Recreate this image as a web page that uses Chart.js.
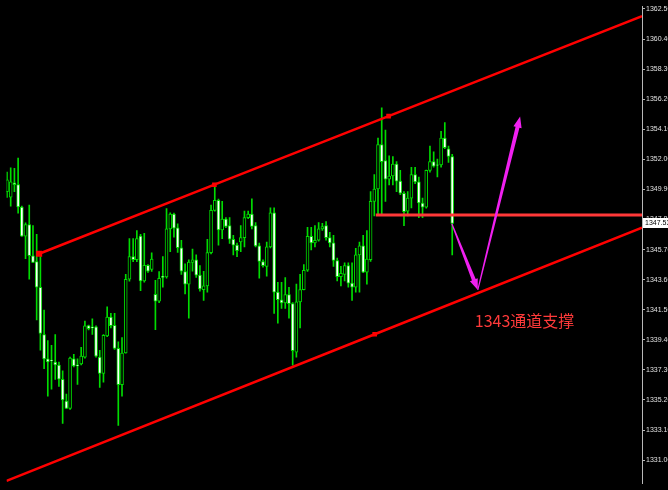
<!DOCTYPE html>
<html>
<head>
<meta charset="utf-8">
<script src="https://cdn.jsdelivr.net/npm/chart.js@4.4.1/dist/chart.umd.min.js"></script>
<style>
  html, body { margin: 0; padding: 0; background: #000; }
  #chart { display: block; background: #000; }
</style>
</head>
<body>
<canvas id="chart" width="668" height="490"></canvas>
<script>
// candles, oldest first (one per bar index)
const candleOpen = [
  1349.75, 1349.36, 1350.36, 1350.23, 1348.66, 1346.64, 1347.44, 1345.26, 1344.87, 1343.07,
  1339.77, 1338.07, 1337.99, 1337.85, 1337.63, 1336.65, 1335.13, 1334.61, 1338.07, 1337.65,
  1337.71, 1338.19, 1340.39, 1340.30, 1340.30, 1338.19, 1337.05, 1339.67, 1340.98, 1340.41,
  1338.80, 1336.27, 1338.48, 1343.63, 1345.21, 1344.99, 1346.64, 1343.51, 1344.60, 1344.31,
  1342.58, 1342.09, 1343.83, 1343.79, 1347.15, 1348.17, 1347.21, 1345.83, 1344.17, 1343.29,
  1344.81, 1344.99, 1343.92, 1342.90, 1343.17, 1345.49, 1348.44, 1349.14, 1347.08, 1347.83,
  1347.37, 1346.42, 1346.01, 1346.23, 1346.53, 1347.93, 1348.17, 1347.37, 1345.96, 1344.87,
  1344.53, 1345.89, 1348.27, 1342.73, 1342.20, 1341.98, 1342.56, 1341.93, 1338.53, 1342.05,
  1342.90, 1344.26, 1346.62, 1346.17, 1346.35, 1347.15, 1347.37, 1346.53, 1346.17, 1344.94,
  1343.81, 1343.97, 1344.58, 1343.36, 1343.07, 1345.33, 1345.96, 1344.13, 1344.99, 1349.07,
  1349.93, 1353.03, 1351.91, 1350.61, 1350.84, 1351.67, 1350.48, 1349.63, 1348.39, 1349.29,
  1350.93, 1350.43, 1348.95, 1348.66, 1351.23, 1351.84, 1351.61, 1351.61, 1353.49, 1352.74,
  1352.20
];
const candleHigh = [
  1351.11, 1351.40, 1351.38, 1352.08, 1348.73, 1347.57, 1348.80, 1347.37, 1346.76, 1345.21,
  1341.47, 1339.35, 1339.01, 1339.77, 1337.85, 1337.24, 1335.61, 1338.19, 1338.39, 1338.07,
  1338.87, 1340.71, 1340.43, 1340.86, 1340.37, 1338.67, 1339.77, 1341.71, 1341.25, 1341.25,
  1339.26, 1339.55, 1343.97, 1346.47, 1346.47, 1347.03, 1346.76, 1346.83, 1344.65, 1345.47,
  1343.56, 1344.17, 1345.21, 1348.57, 1348.27, 1348.25, 1347.49, 1346.35, 1344.70, 1344.99,
  1345.74, 1345.33, 1344.58, 1344.19, 1346.42, 1348.80, 1350.31, 1349.23, 1349.07, 1347.93,
  1347.93, 1346.69, 1346.15, 1347.37, 1348.39, 1348.39, 1349.25, 1347.59, 1346.15, 1344.99,
  1346.23, 1348.61, 1348.61, 1343.41, 1343.41, 1343.75, 1343.07, 1342.00, 1343.29, 1343.97,
  1344.65, 1347.25, 1347.25, 1347.37, 1347.59, 1347.53, 1347.66, 1346.91, 1346.69, 1345.11,
  1344.53, 1344.77, 1344.77, 1344.77, 1345.79, 1346.23, 1346.69, 1347.03, 1349.75, 1350.93,
  1353.49, 1355.60, 1354.05, 1352.25, 1352.20, 1351.84, 1351.23, 1349.75, 1349.75, 1351.45,
  1351.45, 1350.77, 1349.29, 1351.25, 1352.93, 1352.52, 1352.01, 1353.95, 1354.56, 1352.93,
  1352.35
];
const candleLow = [
  1349.34, 1348.73, 1349.75, 1348.25, 1346.62, 1345.06, 1343.63, 1344.79, 1340.79, 1338.67,
  1337.39, 1335.47, 1335.95, 1336.63, 1336.15, 1333.57, 1334.59, 1334.55, 1337.51, 1336.29,
  1337.65, 1338.12, 1340.09, 1339.77, 1338.19, 1336.08, 1336.44, 1339.62, 1340.23, 1338.73,
  1333.43, 1335.47, 1338.46, 1343.49, 1344.85, 1344.85, 1342.83, 1343.43, 1344.11, 1344.17,
  1340.11, 1342.00, 1343.07, 1343.70, 1345.55, 1346.57, 1345.51, 1343.97, 1342.61, 1340.91,
  1344.19, 1343.75, 1342.79, 1342.15, 1342.73, 1345.40, 1348.39, 1346.01, 1346.47, 1347.23,
  1346.13, 1345.33, 1345.21, 1345.55, 1345.89, 1347.85, 1347.15, 1345.89, 1343.70, 1344.47,
  1343.85, 1345.81, 1341.25, 1340.57, 1341.59, 1341.59, 1340.91, 1337.63, 1338.19, 1340.23,
  1342.88, 1344.17, 1345.67, 1345.89, 1346.28, 1347.03, 1346.35, 1345.89, 1344.53, 1343.51,
  1343.17, 1343.51, 1343.07, 1342.15, 1342.73, 1342.73, 1344.09, 1343.29, 1344.87, 1348.05,
  1348.17, 1348.17, 1349.07, 1350.21, 1350.21, 1349.75, 1349.53, 1347.37, 1348.05, 1348.61,
  1350.31, 1347.93, 1347.93, 1348.59, 1351.11, 1351.45, 1350.77, 1351.45, 1352.74, 1351.79,
  1345.33
];
const candleClose = [
  1350.57, 1350.43, 1350.23, 1348.68, 1346.64, 1347.44, 1345.28, 1344.81, 1343.07, 1339.84,
  1338.07, 1337.85, 1337.95, 1337.65, 1336.65, 1335.20, 1334.61, 1338.12, 1337.58, 1337.58,
  1338.26, 1340.37, 1340.18, 1340.23, 1338.26, 1337.05, 1339.71, 1340.98, 1340.39, 1338.80,
  1336.27, 1338.48, 1343.63, 1345.21, 1344.99, 1346.47, 1343.51, 1344.60, 1344.19, 1345.04,
  1342.09, 1343.70, 1343.75, 1347.15, 1348.17, 1347.19, 1345.83, 1344.19, 1343.29, 1344.83,
  1344.99, 1343.92, 1342.95, 1343.17, 1345.49, 1348.44, 1349.14, 1347.08, 1347.83, 1347.32,
  1346.42, 1346.01, 1345.62, 1346.53, 1347.93, 1348.17, 1347.32, 1345.96, 1344.87, 1344.58,
  1345.89, 1348.27, 1342.73, 1342.20, 1341.98, 1342.56, 1341.93, 1338.65, 1342.05, 1342.90,
  1344.26, 1346.62, 1346.17, 1346.35, 1347.15, 1347.30, 1346.53, 1346.17, 1344.94, 1343.81,
  1344.04, 1344.58, 1343.36, 1343.07, 1345.33, 1345.96, 1344.13, 1345.04, 1349.07, 1349.93,
  1353.03, 1351.84, 1350.61, 1350.84, 1351.67, 1350.48, 1349.63, 1348.34, 1349.29, 1350.93,
  1350.43, 1348.95, 1348.66, 1351.23, 1351.84, 1351.52, 1351.59, 1353.49, 1352.81, 1352.20,
  1347.53
];

// price axis
const yTickValues = [1331.0, 1333.1, 1335.2, 1337.3, 1339.4, 1341.5, 1343.6, 1345.7,
  1347.8, 1349.9, 1352.0, 1354.1, 1356.2, 1358.3, 1360.4, 1362.5];
const currentPrice = 1347.53;

// drawn objects (bar index, price)
const upperChannelX = [8.67, 55.9, 102.85, 171.15];
const upperChannelY = [1345.41, 1350.23, 1355.02, 1361.99];
const lowerChannelX = [-0.13, 99.1, 171.15];
const lowerChannelY = [1329.55, 1339.79, 1347.23];
const supportX = [99.4, 171.15];
const supportY = [1348.12, 1348.12];
const arrowX = [119.9, 126.9, 138.3];
const arrowY = [1347.51, 1342.88, 1354.99];
const noteX = 126.1;
const noteY = 1340.71;
const noteText = '1343通道支撑';

const GREEN = '#00dc00';
const AXIS_FONT = '"Liberation Sans", sans-serif';

function pts(xs, ys) {
  return xs.map((x, i) => ({ x: x, y: ys[i] }));
}

const bodies = candleOpen.map((o, i) => ({ x: i, y: [o, candleClose[i]] }));
const wicks = candleOpen.map((o, i) => ({ x: i, y: [candleLow[i], candleHigh[i]] }));
const bodyFill = candleOpen.map((o, i) => candleClose[i] < o ? '#ffffff' : '#000000');

function drawArrow(ctx, x0, y0, x1, y1) {
  const dx = x1 - x0, dy = y1 - y0, len = Math.hypot(dx, dy);
  const ux = dx / len, uy = dy / len, nx = -uy, ny = ux;
  const shaft = len - 11;
  const w0 = 0.6, w1 = 2.0, hw = 4.2;
  const sx = x0 + ux * shaft, sy = y0 + uy * shaft;
  ctx.beginPath();
  ctx.moveTo(x0 + nx * w0, y0 + ny * w0);
  ctx.lineTo(sx + nx * w1, sy + ny * w1);
  ctx.lineTo(sx + nx * hw, sy + ny * hw);
  ctx.lineTo(x1, y1);
  ctx.lineTo(sx - nx * hw, sy - ny * hw);
  ctx.lineTo(sx - nx * w1, sy - ny * w1);
  ctx.lineTo(x0 - nx * w0, y0 - ny * w0);
  ctx.closePath();
  ctx.fill();
}

const annotations = {
  id: 'annotations',
  afterDatasetsDraw(chart) {
    const ctx = chart.ctx, xs = chart.scales.x, ys = chart.scales.y;
    ctx.save();
    // arrows
    ctx.fillStyle = '#f020f0';
    for (let i = 0; i < arrowX.length - 1; i++) {
      drawArrow(ctx,
        xs.getPixelForValue(arrowX[i]), ys.getPixelForValue(arrowY[i]),
        xs.getPixelForValue(arrowX[i + 1]), ys.getPixelForValue(arrowY[i + 1]));
    }
    // note
    ctx.fillStyle = '#ff3a3a';
    ctx.font = '16px "Noto Sans CJK SC", "Noto Sans", sans-serif';
    ctx.textAlign = 'left';
    ctx.textBaseline = 'middle';
    ctx.fillText(noteText, xs.getPixelForValue(noteX), ys.getPixelForValue(noteY));
    ctx.restore();
  },
  afterDraw(chart) {
    // current price tag on the axis
    const ctx = chart.ctx, ys = chart.scales.y;
    const y = ys.getPixelForValue(currentPrice);
    ctx.save();
    ctx.fillStyle = '#ffffff';
    ctx.fillRect(ys.left + 1, Math.round(y) - 5, 40, 10);
    ctx.fillStyle = '#000000';
    ctx.font = '7px ' + AXIS_FONT;
    ctx.textBaseline = 'middle';
    ctx.fillText(currentPrice.toFixed(2), ys.left + 3, Math.round(y));
    ctx.restore();
  }
};

const ctx = document.getElementById('chart').getContext('2d');
const chart = new Chart(ctx, {
  type: 'bar',
  data: {
    datasets: [
      {
        type: 'line',
        data: pts(upperChannelX, upperChannelY),
        borderColor: '#ff0000',
        backgroundColor: '#ff0000',
        borderWidth: 2.5,
        pointStyle: 'rect',
        pointRadius: [2.5, 1.5, 1.5, 0],
        order: 0
      },
      {
        type: 'line',
        data: pts(lowerChannelX, lowerChannelY),
        borderColor: '#ff0000',
        backgroundColor: '#ff0000',
        borderWidth: 2.5,
        pointStyle: 'rect',
        pointRadius: [0, 1.5, 0],
        order: 0
      },
      {
        type: 'line',
        data: pts(supportX, supportY),
        borderColor: '#ff3838',
        borderWidth: 3,
        pointRadius: 0,
        order: 0
      },
      {
        // candle bodies
        data: bodies,
        backgroundColor: bodyFill,
        borderColor: GREEN,
        borderWidth: 1,
        borderSkipped: false,
        barThickness: 3,
        grouped: false,
        order: 1
      },
      {
        // high-low wicks
        data: wicks,
        backgroundColor: GREEN,
        borderWidth: 0,
        barThickness: 1,
        grouped: false,
        order: 2
      }
    ]
  },
  options: {
    responsive: false,
    devicePixelRatio: 1,
    animation: false,
    events: [],
    layout: { padding: 0 },
    plugins: {
      legend: { display: false },
      tooltip: { enabled: false }
    },
    scales: {
      x: {
        type: 'linear',
        display: false,
        offset: false,
        min: -0.133,
        max: 171.15
      },
      y: {
        position: 'right',
        min: 1329.37,
        max: 1362.67,
        afterBuildTicks: scale => {
          scale.ticks = yTickValues.map(v => ({ value: v }));
        },
        afterFit: scale => {
          scale.width = 26;
          scale.paddingTop = 0;
          scale.paddingBottom = 0;
        },
        ticks: {
          color: '#e0e0e0',
          font: { family: AXIS_FONT, size: 7 },
          padding: 1,
          autoSkip: false,
          callback: v => Number(v).toFixed(2)
        },
        grid: {
          drawOnChartArea: false,
          tickLength: 3,
          color: '#b8b8b8'
        },
        border: { color: '#b8b8b8' }
      }
    }
  },
  plugins: [annotations]
});
</script>
</body>
</html>
